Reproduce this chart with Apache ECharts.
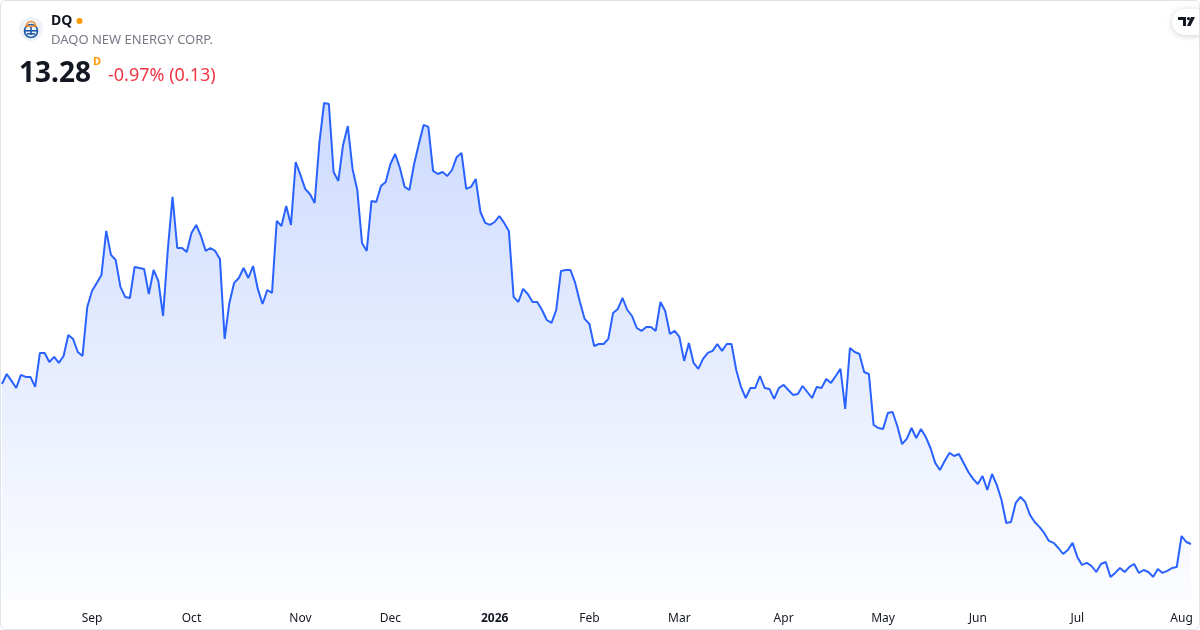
<!DOCTYPE html>
<html>
<head>
<meta charset="utf-8">
<script src="https://cdn.jsdelivr.net/npm/echarts@6/dist/echarts.min.js"></script>
<style>
html,body{margin:0;padding:0;background:#fff;}
#wrap{width:1200px;height:630px;box-sizing:border-box;border:1px solid #e0e3eb;border-radius:6px;overflow:hidden;position:relative;}
#chart{width:1198px;height:628px;}
</style>
</head>
<body>
<div id="wrap"><div id="chart"></div></div>
<script>
// ---- data ----
const symbol = "DQ";
const companyName = "DAQO NEW ENERGY CORP.";
const lastPrice = "13.28";
const changeText = "-0.97% (0.13)";
const startDate = "2025-08-05";
const endDate = "2026-08-05";
const holidays = ["2025-09-01","2025-11-27","2025-12-25","2026-01-01","2026-01-19","2026-02-16","2026-04-03","2026-05-25","2026-06-19","2026-07-03"];
const monthNames = ["Jan","Feb","Mar","Apr","May","Jun","Jul","Aug","Sep","Oct","Nov","Dec"];
const prices = [
23.68,24.33,23.88,23.42,24.27,24.14,24.14,23.49,25.70,25.70,
25.11,25.44,25.05,25.50,26.87,26.61,25.76,25.50,28.69,29.73,
30.25,30.77,33.63,32.07,31.74,29.99,29.34,29.27,31.29,31.22,
31.16,29.53,31.09,30.38,28.10,32.39,35.84,32.52,32.52,32.26,
33.50,34.02,33.30,32.33,32.52,32.33,31.81,26.61,28.95,30.25,
30.57,31.22,30.57,31.35,29.86,28.88,29.79,29.60,34.28,33.95,
35.25,34.02,38.11,37.27,36.36,36.03,35.45,39.35,41.95,41.88,
37.46,36.88,39.22,40.45,37.66,36.29,32.85,32.33,35.58,35.51,
36.55,36.81,37.98,38.63,37.72,36.49,36.29,37.98,39.28,40.52,
40.39,37.53,37.33,37.46,37.20,37.59,38.44,38.70,36.36,36.49,
37.01,34.86,34.15,34.02,34.21,34.60,34.15,33.63,29.34,29.01,
29.86,29.53,29.01,29.01,28.49,27.84,27.65,28.49,31.03,31.09,
31.09,30.25,29.01,27.91,27.58,26.15,26.28,26.28,26.61,28.30,
28.56,29.27,28.49,28.10,27.32,27.13,27.39,27.39,27.13,29.01,
28.43,26.93,27.13,26.74,25.18,26.35,25.05,24.66,25.31,25.70,
25.83,26.28,25.83,26.28,26.28,24.59,23.49,22.77,23.42,23.42,
24.20,23.42,23.36,22.71,23.42,23.62,23.29,22.97,23.03,23.55,
23.16,22.77,23.49,23.42,24.01,23.75,24.20,24.66,22.06,26.02,
25.76,25.63,24.46,24.33,21.02,20.82,20.76,21.80,21.86,20.95,
19.78,20.11,20.82,20.17,20.76,20.24,19.52,18.55,18.09,18.68,
19.20,19.00,19.13,18.55,17.96,17.51,17.18,17.70,16.79,17.83,
17.12,16.14,14.65,14.71,15.95,16.34,16.01,15.17,14.71,14.39,
14.00,13.48,13.35,13.02,12.63,12.89,13.35,12.44,11.92,12.05,
11.85,11.46,11.98,12.11,11.14,11.40,11.72,11.46,11.79,11.98,
11.40,11.59,11.46,11.14,11.66,11.40,11.53,11.72,11.79,13.80,
13.41,13.28
];

// ---- trading-day categories ----
function ymd(d){return d.toISOString().slice(0,10);}
const dates = [];
{
  let d = new Date(startDate + "T00:00:00Z");
  const end = new Date(endDate + "T00:00:00Z");
  while (d <= end) {
    const wd = d.getUTCDay();
    const s = ymd(d);
    if (wd !== 0 && wd !== 6 && holidays.indexOf(s) < 0) dates.push(s);
    d = new Date(d.getTime() + 86400000);
  }
}
const monthStart = {};
for (let i = 1; i < dates.length; i++) {
  if (dates[i].slice(0,7) !== dates[i-1].slice(0,7)) monthStart[i] = true;
}

const chart = echarts.init(document.getElementById('chart'), null, {renderer:'canvas'});
const FONT = '"Noto Sans", "Open Sans", sans-serif';
chart.setOption({
  animation:false,
  grid:{left:1, right:8, top:89, bottom:29},
  xAxis:{
    type:'category', data:dates, boundaryGap:false,
    axisLine:{show:false}, axisTick:{show:false}, splitLine:{show:false},
    axisLabel:{
      interval:function(idx){return !!monthStart[idx];},
      margin:13,
      fontFamily:FONT, fontSize:12, color:'#131722',
      formatter:function(v){
        const m = parseInt(v.slice(5,7),10);
        if (m === 1) return '{b|' + v.slice(0,4) + '}';
        return monthNames[m-1];
      },
      rich:{b:{fontWeight:'bold', fontFamily:FONT, fontSize:12, color:'#131722'}}
    }
  },
  yAxis:{
    type:'value', min:9.64, max:42.79, show:false, splitLine:{show:false}
  },
  series:[{
    type:'line', data:prices, showSymbol:false, smooth:false,
    lineStyle:{color:'#2962ff', width:2},
    itemStyle:{color:'#2962ff'},
    areaStyle:{
      color:new echarts.graphic.LinearGradient(0,0,0,1,[
        {offset:0, color:'rgba(41,98,255,0.33)'},
        {offset:1, color:'rgba(41,98,255,0.02)'}
      ])
    }
  }],
  graphic:[
    {type:'circle', shape:{cx:30, cy:28, r:12}, style:{fill:'#eef1f8'}},
    {type:'circle', shape:{cx:30, cy:30, r:6.5}, style:{fill:'none', stroke:'#1f5aa8', lineWidth:1.6}},
    {type:'rect', shape:{x:24, y:29, width:12, height:1.6}, style:{fill:'#1f5aa8'}},
    {type:'rect', shape:{x:26, y:32, width:8, height:1.6}, style:{fill:'#1f5aa8'}},
    {type:'rect', shape:{x:29.2, y:26, width:1.6, height:8}, style:{fill:'#1f5aa8'}},
    {type:'arc', shape:{cx:30, cy:25, r:4.5, startAngle:Math.PI, endAngle:0}, style:{fill:'none', stroke:'#f28c28', lineWidth:1.6}},
    {type:'rect', shape:{x:24, y:24.5, width:12, height:1.4}, style:{fill:'#f28c28'}},
    {type:'text', left:50, top:13, style:{text:symbol, font:'bold 14px ' + FONT, fill:'#131722'}},
    {type:'circle', shape:{cx:78.5, cy:20, r:3}, style:{fill:'#ff9800'}},
    {type:'text', left:50, top:33, style:{text:companyName, font:'13px ' + FONT, fill:'#787b86'}},
    {type:'text', left:18, top:59, style:{text:lastPrice, font:'bold 28px ' + FONT, fill:'#131722'}},
    {type:'text', left:92, top:55, style:{text:'D', font:'bold 11px ' + FONT, fill:'#ff9800'}},
    {type:'text', left:107, top:66, style:{text:changeText, font:'18px ' + FONT, fill:'#f23645'}},
    {type:'rect', shape:{x:1171, y:8, width:40, height:26, r:13}, style:{fill:'#ffffff', shadowBlur:6, shadowColor:'rgba(0,0,0,0.18)', shadowOffsetY:1}},
    {type:'polygon', shape:{points:[[1177,16],[1185,16],[1185,25],[1182,25],[1182,19],[1177,19]]}, style:{fill:'#131722'}},
    {type:'circle', shape:{cx:1187.5, cy:17.6, r:1.6}, style:{fill:'#131722'}},
    {type:'polygon', shape:{points:[[1190,16],[1194,16],[1189.5,25],[1186,25]]}, style:{fill:'#131722'}}
  ]
});
</script>
</body>
</html>
